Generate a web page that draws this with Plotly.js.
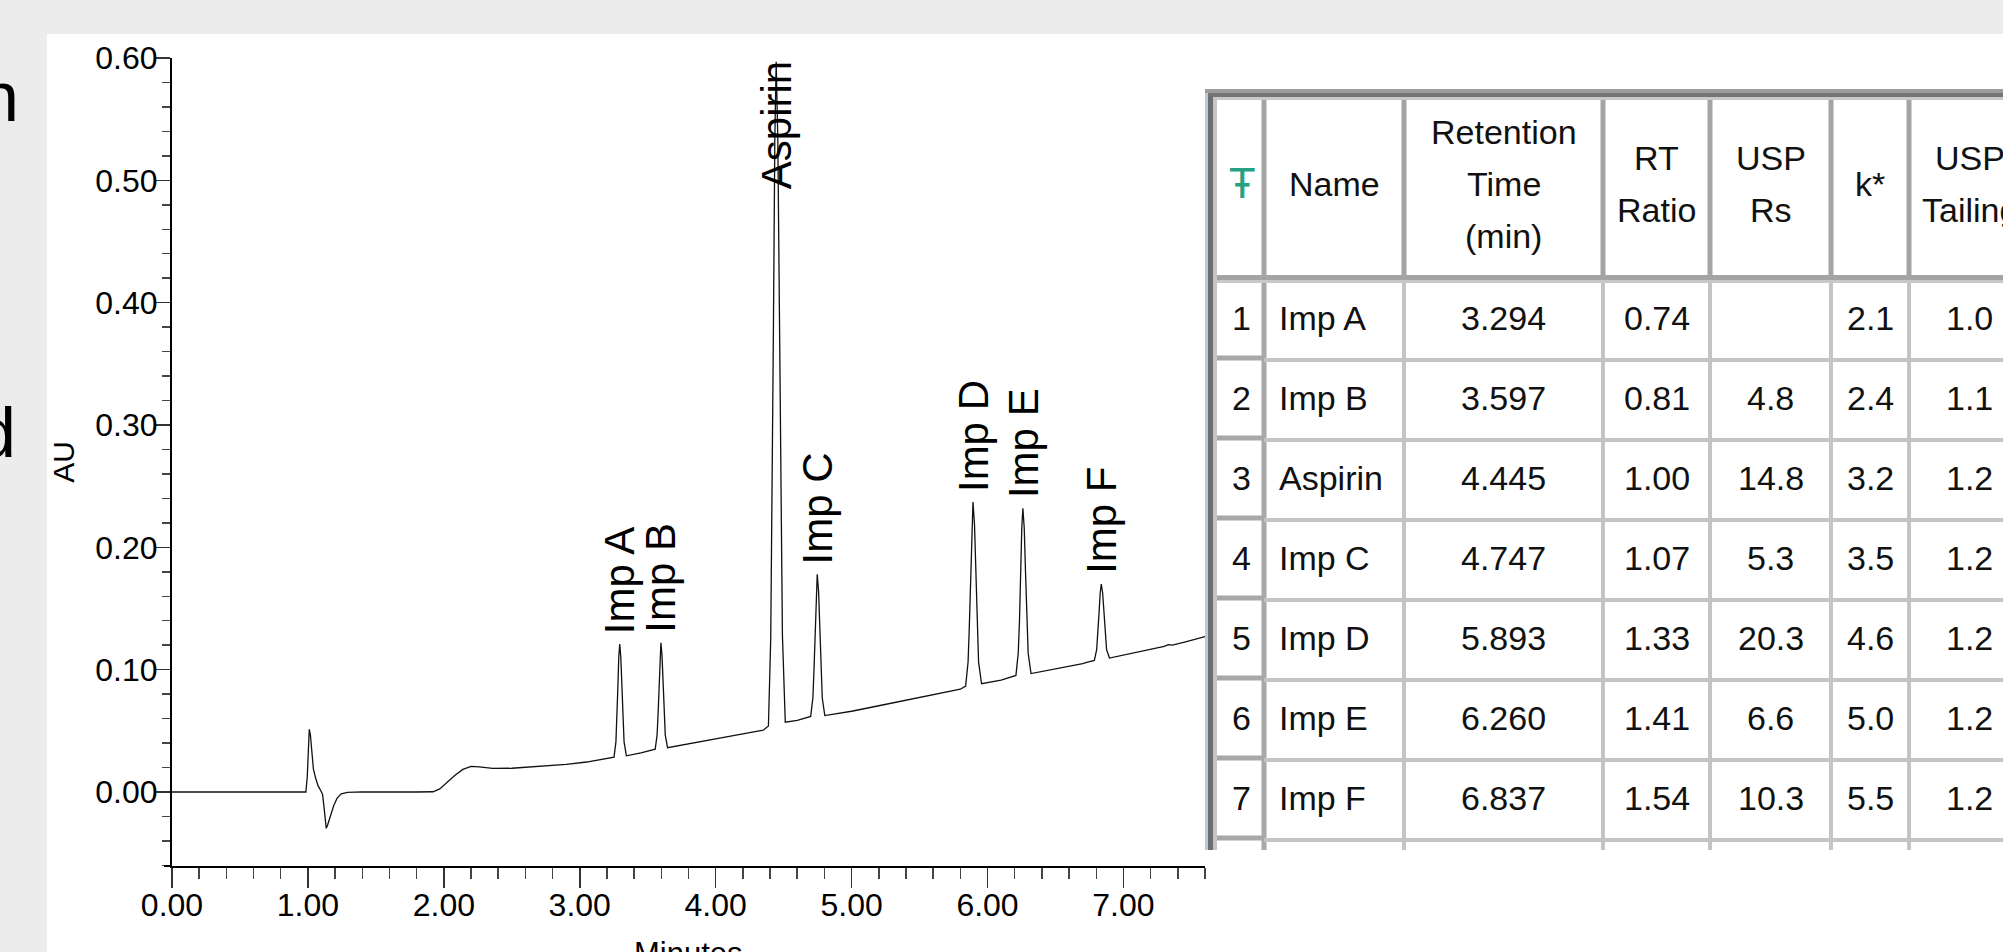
<!DOCTYPE html>
<html><head><meta charset="utf-8">
<script src="https://cdn.plot.ly/plotly-3.0.1.min.js"></script>
<style>
html,body{margin:0;padding:0;width:2003px;height:952px;overflow:hidden;background:#ececec;}
#panel{position:absolute;left:47px;top:34px;width:1956px;height:918px;background:#ffffff;}
#chart{position:absolute;left:0;top:0;width:2040px;height:952px;}
</style></head><body>
<div id="panel"></div>
<div id="chart"></div>
<script>
// ---- chromatogram trace (minutes, AU) ----
const traceTime = [0.000,0.500,0.985,0.995,1.003,1.010,1.018,1.028,1.040,1.055,1.075,1.095,1.108,1.118,1.128,1.135,1.145,1.165,1.190,1.215,1.245,1.290,1.400,1.800,1.920,1.970,2.020,2.080,2.140,2.200,2.260,2.360,2.500,2.700,2.900,3.050,3.150,
3.252,3.266,3.273,3.280,3.287,3.294,3.302,3.310,3.318,3.326,3.343,3.450,
3.555,3.569,3.576,3.583,3.590,3.597,3.605,3.613,3.621,3.629,3.646,3.800,4.000,4.200,4.350,
4.388,4.405,4.415,4.425,4.435,4.445,4.457,4.468,4.479,4.491,4.512,4.600,
4.699,4.715,4.723,4.731,4.739,4.747,4.757,4.765,4.774,4.784,4.803,5.000,5.200,5.400,5.600,5.800,
5.839,5.857,5.866,5.875,5.884,5.893,5.904,5.914,5.924,5.934,5.956,6.100,
6.209,6.226,6.235,6.243,6.252,6.260,6.270,6.280,6.289,6.299,6.320,6.500,6.700,6.730,
6.786,6.803,6.812,6.820,6.829,6.837,6.847,6.857,6.866,6.876,6.897,7.000,7.200,7.300,7.330,7.360,7.450,7.600];
const traceAU = [0,0,0,0.012,0.045,0.0512,0.047,0.030,0.019,0.012,0.005,0.001,-0.002,-0.012,-0.025,-0.0297,-0.027,-0.019,-0.011,-0.005,-0.0015,-0.0003,0.0001,0,0.0002,0.0025,0.0075,0.0135,0.0185,0.0210,0.0205,0.0193,0.0194,0.0207,0.0225,0.0245,0.0262,
0.0285,0.0410,0.0586,0.0846,0.1101,0.1210,0.1101,0.0846,0.0586,0.0410,0.0296,0.0320,
0.0350,0.0467,0.0633,0.0878,0.1117,0.1220,0.1117,0.0878,0.0633,0.0467,0.0362,0.0395,0.0435,0.0475,0.0505,
0.0540,0.1254,0.2286,0.3819,0.5329,0.5970,0.5344,0.3849,0.2316,0.1284,0.0570,0.0585,
0.0618,0.0768,0.0990,0.1320,0.1642,0.1780,0.1642,0.1320,0.0990,0.0768,0.0625,0.0660,0.0705,0.0750,0.0795,0.0840,
0.0866,0.1064,0.1351,0.1777,0.2192,0.2370,0.2192,0.1777,0.1351,0.1064,0.0885,0.0915,
0.0953,0.1135,0.1395,0.1782,0.2158,0.2320,0.2158,0.1782,0.1395,0.1135,0.0968,0.1005,0.1050,0.1060,
0.1075,0.1164,0.1282,0.1456,0.1627,0.1700,0.1627,0.1456,0.1282,0.1164,0.1095,0.1120,0.1165,0.1190,0.1205,0.1200,0.1225,0.1270];

// ---- peaks / results table ----
const peakIndex = [1,2,3,4,5,6,7];
const peakNames = ['Imp A','Imp B','Aspirin','Imp C','Imp D','Imp E','Imp F'];
const retentionTime = [3.294,3.597,4.445,4.747,5.893,6.260,6.837];
const peakApexAU = [0.121,0.122,0.597,0.178,0.237,0.232,0.170];
const rtRatio = [0.74,0.81,1.00,1.07,1.33,1.41,1.54];
const uspRs = [null,4.8,14.8,5.3,20.3,6.6,10.3];
const kPrime = [2.1,2.4,3.2,3.5,4.6,5.0,5.5];
const uspTailing = [1.0,1.1,1.2,1.2,1.2,1.2,1.2];
const headerLabels = ['Ŧ','Name','Retention<br>Time<br>(min)','RT<br>Ratio','USP<br>Rs','k*','USP<br>Tailing'];

// ---- axes ticks ----
const xTickVals = [0,1,2,3,4,5,6,7];
const xTickText = ['0.00','1.00','2.00','3.00','4.00','5.00','6.00','7.00'];
const yTickVals = [0,0.1,0.2,0.3,0.4,0.5,0.6];
const yTickText = ['0.00','0.10','0.20','0.30','0.40','0.50','0.60'];
const sideText = ['n','d'];

// ---- geometry (style) ----
const W = 2040, H = 952, L = 172, R = 10, T = 58, B = 86;
const pw = W - L - R, ph = H - T - B;
const px = v => (v - L) / pw;
const py = v => (H - B - v) / ph;
const yMin = -0.0605, yMax = 0.60;

const fontMain = 'Liberation Sans, Arial, Helvetica, sans-serif';
const tableFont = {family: fontMain, size: 34, color: '#111111'};
const iconFont = {family: 'DejaVu Sans, Liberation Sans, sans-serif', size: 40, color: '#26a282'};

const chromTrace = {
  type: 'scatter', mode: 'lines', x: traceTime, y: traceAU,
  line: {color: '#111111', width: 1.3}, hoverinfo: 'skip', showlegend: false
};

// ---- peak labels ----
const annotations = peakNames.map((n, i) => {
  const clamp = peakApexAU[i] > 0.45;
  return {
    xref: 'x', yref: 'y', x: retentionTime[i], y: clamp ? yMax : peakApexAU[i],
    text: n, textangle: -90, showarrow: false, xanchor: 'center',
    yanchor: clamp ? 'top' : 'bottom', yshift: clamp ? -1 : 8,
    font: {family: fontMain, size: 42, color: '#000'}
  };
});
annotations.push({xref:'paper', yref:'paper', x: px(688), y: py(934), xanchor:'center', yanchor:'top', text:'Minutes', showarrow:false, font:{family: fontMain, size: 31, color:'#000'}});
annotations.push({xref:'paper', yref:'paper', x: px(21), y: py(97), xanchor:'right', yanchor:'middle', text: sideText[0], showarrow:false, font:{family: fontMain, size: 70, color:'#000'}});
annotations.push({xref:'paper', yref:'paper', x: px(18), y: py(433), xanchor:'right', yanchor:'middle', text: sideText[1], showarrow:false, font:{family: fontMain, size: 70, color:'#000'}});

// ---- results table (grid as shapes, cells as annotations) ----
const colEdges = [1215, 1264, 1404, 1603, 1710, 1831, 1909, 2030];
const headerTop = 98, headerBottom = 280, rowH = 80, tableBottom = 850, headerMid = 184, headerPitch = 52;
const fmt = (arr, d) => arr.map(v => v == null ? '' : v.toFixed(d));
const tableColumns = [peakIndex.map(String), peakNames, fmt(retentionTime,3), fmt(rtRatio,2), fmt(uspRs,1), fmt(kPrime,1), fmt(uspTailing,1)];
const colCenter = c => (colEdges[c] + colEdges[c+1]) / 2;

headerLabels.forEach((h, c) => {
  const lines = h.split('<br>');
  lines.forEach((ln, k) => {
    annotations.push({xref:'paper', yref:'paper', x: px(colCenter(c) + (c === 0 ? 2 : 0)),
      y: py(headerMid + (k - (lines.length - 1) / 2) * headerPitch),
      xanchor:'center', yanchor:'middle', text: ln, showarrow:false, font: c === 0 ? iconFont : tableFont});
  });
});
tableColumns.forEach((col, c) => col.forEach((txt, r) => {
  if (!txt) return;
  annotations.push({xref:'paper', yref:'paper',
    x: c === 1 ? px(colEdges[1] + 13) : px(colCenter(c) + (c === 0 ? 2 : 0)),
    y: py(headerBottom + rowH * r + rowH / 2 - 2),
    xanchor: c === 1 ? 'left' : 'center', yanchor:'middle', text: txt, showarrow:false, font: tableFont});
}));

const shapes = [
  {type:'line', xref:'paper', yref:'paper', x0: px(164), x1: 0, y0: 0, y1: 0, line:{color:'#000', width:2}}
];
const hline = (x0, x1, y, color, w) => shapes.push({type:'line', xref:'paper', yref:'paper', x0: px(x0), x1: px(x1), y0: py(y), y1: py(y), line:{color: color, width: w}});
const vline = (x, y0, y1, color, w) => shapes.push({type:'line', xref:'paper', yref:'paper', x0: px(x), x1: px(x), y0: py(y0), y1: py(y1), line:{color: color, width: w}});
const nRows = tableColumns[0].length;
// header column separators
for (let c = 1; c < colEdges.length - 1; c++) vline(colEdges[c], headerTop, headerBottom, '#a4a4a4', 5);
// body column separators
vline(colEdges[1], headerBottom, tableBottom, '#a8a8a8', 5);
for (let c = 2; c < colEdges.length - 1; c++) vline(colEdges[c], headerBottom, tableBottom, '#c4c4c4', 4);
// header bottom
hline(colEdges[0], W, headerBottom - 2.5, '#a4a4a4', 5);
hline(colEdges[0], W, headerBottom + 1.5, '#c8c8c8', 3);
// row separators
for (let r = 1; r <= nRows; r++) {
  const y = headerBottom + rowH * r;
  hline(colEdges[1], W, y, '#c4c4c4', 4);
  hline(colEdges[0], colEdges[1], y - 2, '#a8a8a8', 5);
}
// outer frame
const frect = (x0, x1, y0, y1, color) => shapes.push({type:'rect', xref:'paper', yref:'paper', x0: px(x0), x1: px(x1), y0: py(y1), y1: py(y0), line:{width:0}, fillcolor: color});
frect(1205, 1208, 89, tableBottom, '#b8cadc');
frect(1208, 1213, 89, tableBottom, '#6e6e6e');
frect(1213, 1217, 97, tableBottom, '#c6c6c6');
frect(1205, W, 89, 93, '#9c9c9c');
frect(1208, W, 93, 97, '#747474');
frect(1213, W, 97, 100, '#c8c8c8');

const axisFont = {family: fontMain, size: 32, color: '#000'};
const layout = {
  width: W, height: H,
  margin: {l: L, r: R, t: T, b: B, pad: 0},
  paper_bgcolor: 'rgba(0,0,0,0)', plot_bgcolor: 'rgba(0,0,0,0)',
  showlegend: false,
  xaxis: {
    domain: [0, 1033 / pw], range: [0, 7.6], anchor: 'y',
    showline: true, linecolor: '#000', linewidth: 2,
    showgrid: false, zeroline: false,
    tickmode: 'array', tickvals: xTickVals, ticktext: xTickText,
    ticks: 'outside', ticklen: 20, tickwidth: 1.5, tickcolor: '#333', ticklabelstandoff: -10,
    minor: {tickmode: 'linear', tick0: 0, dtick: 0.2, ticks: 'outside', ticklen: 11, tickwidth: 1.5, tickcolor: '#444', showgrid: false},
    tickfont: axisFont
  },
  yaxis: {
    domain: [0, 1], range: [yMin, yMax], anchor: 'x',
    showline: true, linecolor: '#000', linewidth: 2,
    showgrid: false, zeroline: false,
    tickmode: 'array', tickvals: yTickVals, ticktext: yTickText,
    ticks: 'outside', ticklen: 15, tickwidth: 1.5, tickcolor: '#333', ticklabelstandoff: -9,
    minor: {tickmode: 'linear', tick0: 0, dtick: 0.02, ticks: 'outside', ticklen: 8, tickwidth: 1.5, tickcolor: '#444', showgrid: false},
    tickfont: axisFont,
    title: {text: 'AU', font: {family: fontMain, size: 30, color: '#000'}, standoff: 12}
  },
  annotations: annotations,
  shapes: shapes
};

Plotly.newPlot('chart', [chromTrace], layout, {staticPlot: true, displayModeBar: false});
</script>
</body></html>
